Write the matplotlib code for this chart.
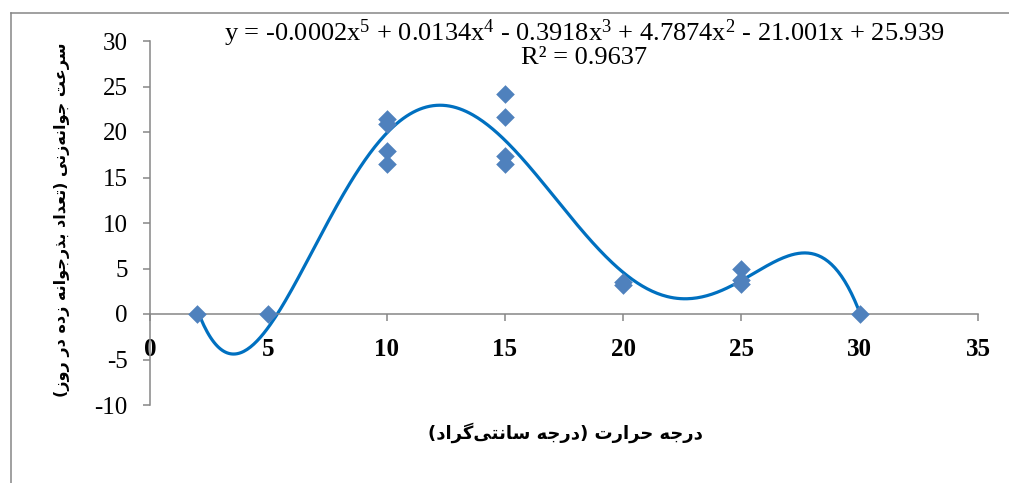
import numpy as np
import matplotlib
matplotlib.use("Agg")
import matplotlib.pyplot as plt
from matplotlib.lines import Line2D

# ---------------- data ----------------
temp_x = [2, 5, 10, 10, 10, 10, 15, 15, 15, 15, 20, 20, 25, 25, 25, 30]
rate_y = [0, 0, 21.4, 20.9, 17.9, 16.5, 24.2, 21.7, 17.4, 16.5, 3.5, 3.2, 5.0, 3.7, 3.3, 0]
x_ticks = [0, 5, 10, 15, 20, 25, 30, 35]
y_ticks = [-10, -5, 0, 5, 10, 15, 20, 25, 30]
eq_text = "y = -0.0002x$^{5}$ + 0.0134x$^{4}$ - 0.3918x$^{3}$ + 4.7874x$^{2}$ - 21.001x + 25.939"
r2_text = "R² = 0.9637"
x_label = "درجه حرارت (درجه سانتی\u200cگراد)"
y_label = "سرعت جوانه\u200cزنی (تعداد بذرجوانه زده در روز)"

# ---------------- simple Persian shaping ----------------
FORMS = {
    'ا': ('\uFE8D', '\uFE8E', None, None),
    'ب': ('\uFE8F', '\uFE90', '\uFE91', '\uFE92'),
    'ت': ('\uFE95', '\uFE96', '\uFE97', '\uFE98'),
    'ج': ('\uFE9D', '\uFE9E', '\uFE9F', '\uFEA0'),
    'ح': ('\uFEA1', '\uFEA2', '\uFEA3', '\uFEA4'),
    'د': ('\uFEA9', '\uFEAA', None, None),
    'ذ': ('\uFEAB', '\uFEAC', None, None),
    'ر': ('\uFEAD', '\uFEAE', None, None),
    'ز': ('\uFEAF', '\uFEB0', None, None),
    'س': ('\uFEB1', '\uFEB2', '\uFEB3', '\uFEB4'),
    'ع': ('\uFEC9', '\uFECA', '\uFECB', '\uFECC'),
    'ن': ('\uFEE5', '\uFEE6', '\uFEE7', '\uFEE8'),
    'ه': ('\uFEE9', '\uFEEA', '\uFEEB', '\uFEEC'),
    'و': ('\uFEED', '\uFEEE', None, None),
    'ی': ('\uFBFC', '\uFBFD', '\uFBFE', '\uFBFF'),
    'گ': ('\uFB92', '\uFB93', '\uFB94', '\uFB95'),
}


def shape(s):
    out = []
    for i, c in enumerate(s):
        if c == '\u200c':
            continue
        if c not in FORMS:
            out.append(c)
            continue
        iso, fin, ini, med = FORMS[c]
        prev = s[i - 1] if i > 0 else None
        nxt = s[i + 1] if i + 1 < len(s) else None
        jp = prev in FORMS and FORMS[prev][2] is not None
        jn = nxt in FORMS and ini is not None
        if jp and jn:
            out.append(med)
        elif jp:
            out.append(fin)
        elif jn:
            out.append(ini)
        else:
            out.append(iso)
    vis = ''.join(reversed(out))
    return vis.translate(str.maketrans('()', ')('))


# ---------------- figure ----------------
plt.rcParams['mathtext.fontset'] = 'custom'
plt.rcParams['mathtext.rm'] = 'Liberation Serif'
plt.rcParams['mathtext.it'] = 'Liberation Serif'
plt.rcParams['axes.unicode_minus'] = False
plt.rcParams['font.family'] = ['Liberation Serif', 'DejaVu Sans']

W, H = 1009, 483
fig = plt.figure(figsize=(W / 100, H / 100), dpi=100)
fig.patch.set_facecolor('white')

# outer chart-area border (cropped on right and bottom)
bx, by = 10.5 / W, 1 - 12.5 / H
fig.add_artist(Line2D([bx, 1.05], [by, by], transform=fig.transFigure,
                      color='#868686', linewidth=1.1))
fig.add_artist(Line2D([bx, bx], [-0.05, by], transform=fig.transFigure,
                      color='#868686', linewidth=1.1))

ax = fig.add_axes([150 / W, 1 - 405 / H, (978 - 150) / W, (405 - 41) / H])
ax.set_xlim(0, 35)
ax.set_ylim(-10, 30)
ax.patch.set_alpha(0)

for s in ['top', 'right']:
    ax.spines[s].set_visible(False)
ax.spines['bottom'].set_position(('data', 0))
for s in ['left', 'bottom']:
    ax.spines[s].set_color('#868686')
    ax.spines[s].set_linewidth(1.1)

ax.set_xticks(x_ticks)
ax.set_yticks(y_ticks)
ax.tick_params(axis='both', colors='#868686', length=5, width=1.1, direction='out')
ax.tick_params(axis='x', labelcolor='black', pad=12, labelsize=18)
ax.tick_params(axis='y', labelcolor='black', pad=11, labelsize=18)
for lab in ax.get_xticklabels():
    lab.set_fontweight('bold')

# trendline (5th order polynomial fit, as in the original)
coef = np.polyfit(temp_x, rate_y, 5)
xx = np.linspace(min(temp_x), max(temp_x), 400)
ax.plot(xx, np.polyval(coef, xx), color='#0070C0', linewidth=2.3, zorder=2)

ax.scatter(temp_x, rate_y, marker='D', s=90, color='#4F81BD', zorder=3, linewidths=0)

fig.text(584 / W, 1 - 33 / H, eq_text, ha='center', va='center', fontsize=19)
fig.text(584 / W, 1 - 58 / H, r2_text, ha='center', va='center', fontsize=19)

fig.text(565 / W, 1 - 433 / H, shape(x_label), ha='center', va='center', fontsize=13,
         fontweight='bold', family=['DejaVu Sans'])
fig.text(62 / W, 1 - 220 / H, shape(y_label), ha='center', va='center', fontsize=11.5,
         fontweight='bold', rotation=90, family=['DejaVu Sans'])

fig.savefig('out.png', dpi=100)
